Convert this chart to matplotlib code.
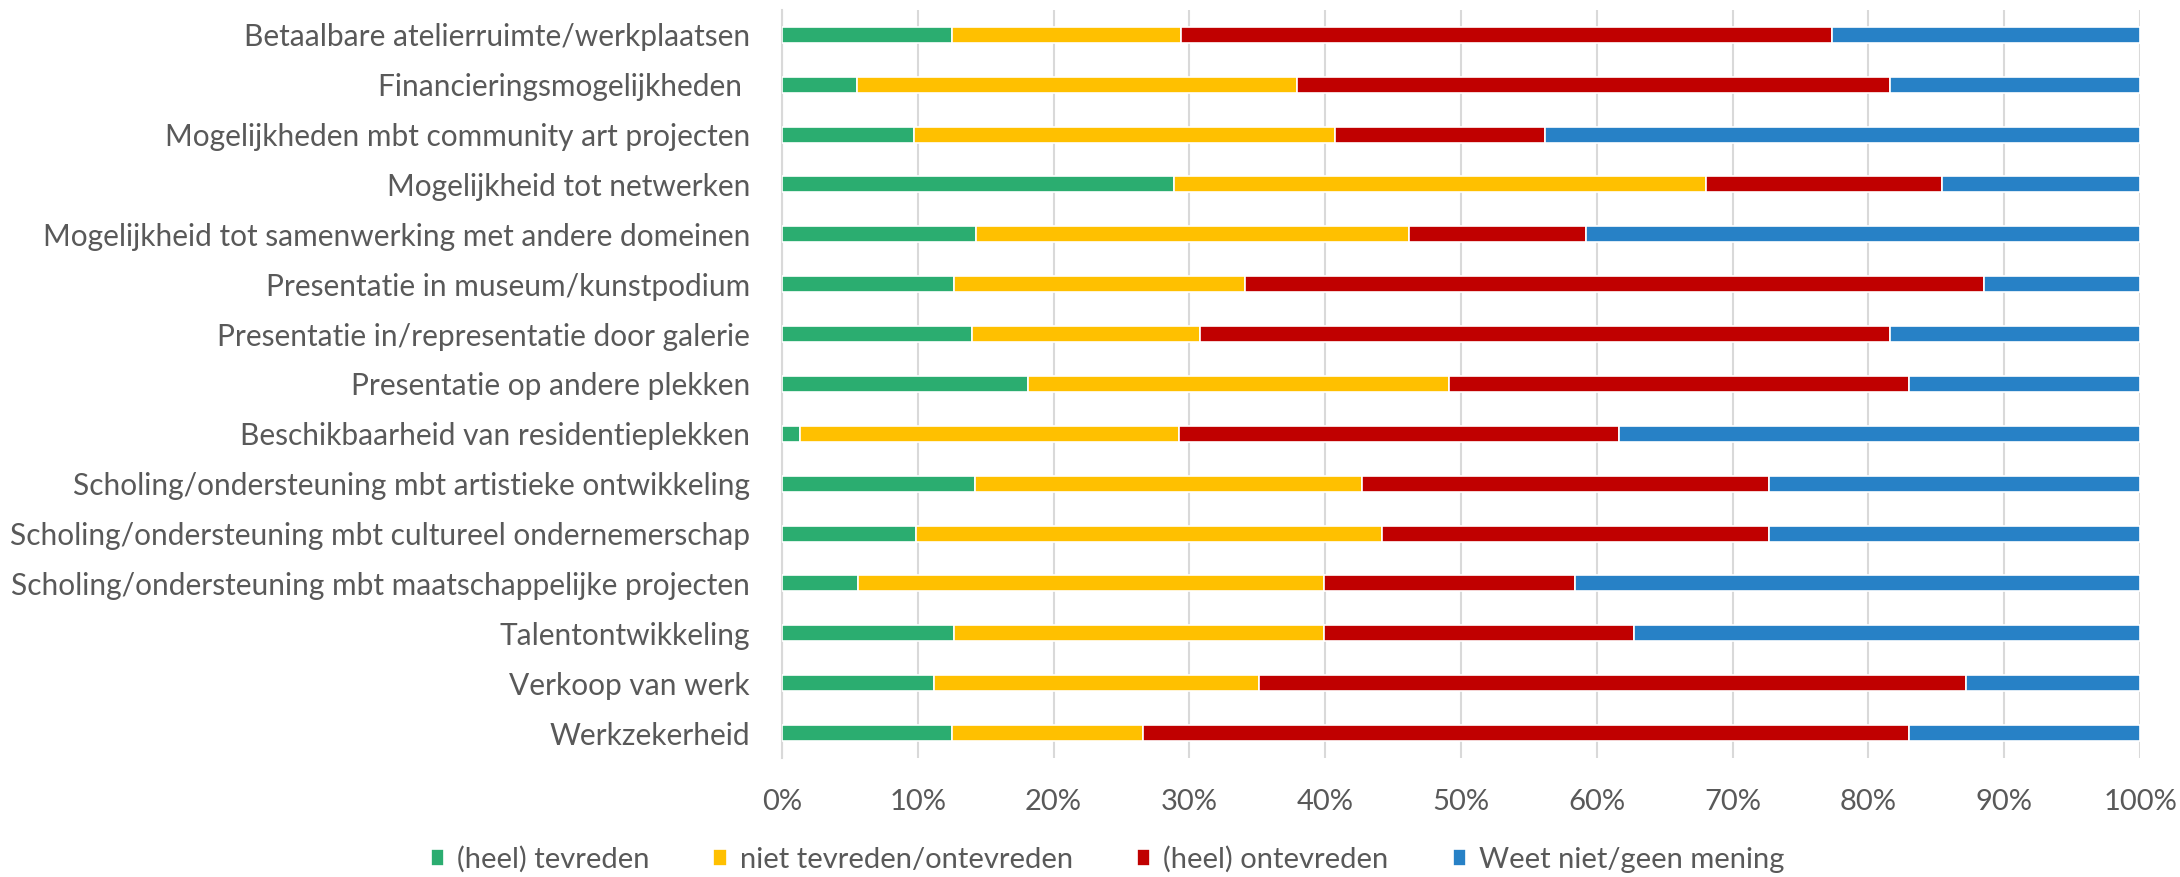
import numpy as np
import matplotlib.pyplot as plt
from matplotlib.ticker import PercentFormatter

categories = [
    "Betaalbare atelierruimte/werkplaatsen",
    "Financieringsmogelijkheden ",
    "Mogelijkheden mbt community art projecten",
    "Mogelijkheid tot netwerken",
    "Mogelijkheid tot samenwerking met andere domeinen",
    "Presentatie in museum/kunstpodium",
    "Presentatie in/representatie door galerie",
    "Presentatie op andere plekken",
    "Beschikbaarheid van residentieplekken",
    "Scholing/ondersteuning mbt artistieke ontwikkeling",
    "Scholing/ondersteuning mbt cultureel ondernemerschap",
    "Scholing/ondersteuning mbt maatschappelijke projecten",
    "Talentontwikkeling",
    "Verkoop van werk",
    "Werkzekerheid",
]

# shares in %
tevreden = [12.5, 5.5, 9.7, 28.9, 14.3, 12.7, 14.0, 18.1, 1.3, 14.2, 9.9, 5.6, 12.7, 11.2, 12.5]
neutraal = [16.9, 32.4, 31.0, 39.1, 31.9, 21.4, 16.8, 31.0, 27.9, 28.5, 34.3, 34.3, 27.2, 23.9, 14.1]
ontevreden = [47.9, 43.7, 15.5, 17.4, 13.0, 54.4, 50.8, 33.9, 32.4, 30.0, 28.5, 18.5, 22.8, 52.1, 56.4]
weet_niet = [100 - a - b - c for a, b, c in zip(tevreden, neutraal, ontevreden)]

series = [
    ("(heel) tevreden", tevreden, "#2BAD70"),
    ("niet tevreden/ontevreden", neutraal, "#FFC000"),
    ("(heel) ontevreden", ontevreden, "#C00000"),
    ("Weet niet/geen mening", weet_niet, "#2781C6"),
]

plt.rcParams['font.family'] = ['Lato', 'DejaVu Sans']
grey = "#595959"

fig = plt.figure(figsize=(21.8, 8.77), dpi=100)
ax = fig.add_axes([0.3587, 0.1357, 0.623, 0.853])

y = np.arange(len(categories))
left = np.zeros(len(categories))
for name, vals, col in series:
    vals = np.array(vals)
    ax.barh(y, vals, left=left, height=0.32, color=col, edgecolor="white",
            linewidth=1.2, label=name, zorder=3)
    left += vals

ax.set_xlim(0, 100)
ax.set_ylim(len(categories) - 0.5, -0.5)
ax.set_yticks(y)
ax.set_yticklabels(categories, fontsize=21.5, color=grey)
ax.set_xticks(np.arange(0, 101, 10))
ax.xaxis.set_major_formatter(PercentFormatter(decimals=0))
ax.tick_params(axis="x", labelsize=21, labelcolor=grey, length=0, pad=22)
ax.tick_params(axis="y", length=0, pad=23)
ax.grid(axis="x", color="#D9D9D9", linewidth=1.5, zorder=0)
for s in ["top", "right", "bottom"]:
    ax.spines[s].set_visible(False)
ax.spines["left"].set_color("#D9D9D9")
ax.spines["left"].set_linewidth(1.5)

fig.legend(loc="center", bbox_to_anchor=(0.508, 0.02), ncol=4, frameon=False,
           fontsize=21, labelcolor=grey, handlelength=0.45, handleheight=0.5,
           handletextpad=0.45, columnspacing=2.2, borderpad=0)

fig.savefig("out.png", dpi=100)
